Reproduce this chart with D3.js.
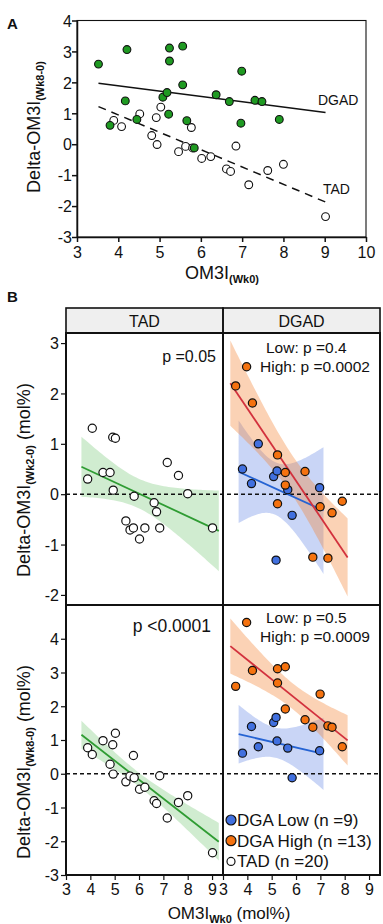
<!DOCTYPE html>
<html><head><meta charset="utf-8">
<script src="https://cdn.jsdelivr.net/npm/d3@7"></script>
<style>
html,body{margin:0;padding:0;background:#fff;}
svg{display:block;}
text{font-family:"Liberation Sans",Arial,sans-serif;fill:#111;}
</style></head>
<body><svg id="c" width="383" height="924"></svg>
<script>
// ---------- DATA ----------
const tadX     = [3.89,4.08,4.52,4.81,4.92,4.94,5.03,5.46,5.63,5.77,5.80,6.02,6.24,6.62,6.72,6.85,7.16,7.62,8.00,9.02];
const tadWk2   = [0.30,1.31,0.43,0.43,1.13,0.08,1.11,-0.53,-0.71,-0.67,-0.04,-0.89,-0.67,-0.17,-0.35,-0.67,0.63,0.37,0.01,-0.67];
const tadWk8   = [0.77,0.57,0.98,0.28,0.86,-0.01,1.20,-0.24,-0.07,0.54,-0.12,-0.46,-0.40,-0.80,-0.88,-0.06,-1.31,-0.85,-0.65,-2.34];
const lowX     = [3.80,4.17,4.45,5.08,5.18,5.22,5.66,5.84,6.97];
const lowWk2   = [0.50,0.21,1.00,0.35,-1.31,0.46,0.09,-0.42,0.13];
const lowWk8   = [0.61,1.40,0.80,1.52,1.67,0.97,0.76,-0.12,0.68];
const highX    = [3.52,3.97,4.21,5.24,5.24,5.56,5.56,6.37,6.69,6.99,7.31,7.48,7.90];
const highWk2  = [2.15,2.53,1.81,0.78,-0.19,0.43,0.18,0.45,-1.25,-0.25,-1.27,-0.37,-0.14];
const highWk8  = [2.59,4.48,3.06,3.11,2.69,3.17,1.92,1.60,1.38,2.36,1.42,1.38,0.80];
const aXTicks  = [3,4,5,6,7,8,9,10];
const aYTicks  = [-3,-2,-1,0,1,2,3,4];
const bXTicks  = [3,4,5,6,7,8,9];
const bTopYTicks = [-2,-1,0,1,2,3];
const bBotYTicks = [-3,-2,-1,0,1,2,3,4];
const facets   = ["TAD","DGAD"];
const pTop     = ["p =0.05","Low: p =0.4","High: p =0.0002"];
const pBot     = ["p <0.0001","Low: p =0.5","High: p =0.0009"];
const legendLabels = ["DGA Low (n =9)","DGA High (n =13)","TAD (n =20)"];
const tCrit = {18:2.101, 11:2.201, 7:2.365, 19:2.093, 20:2.086};

// ---------- helpers ----------
const fmt = d => String(d);
function fit(xs, ys){
  const n=xs.length, mx=d3.mean(xs), my=d3.mean(ys);
  let sxx=0,sxy=0; xs.forEach((x,i)=>{sxx+=(x-mx)**2; sxy+=(x-mx)*(ys[i]-my);});
  const b=sxy/sxx, a=my-b*mx;
  let sse=0; xs.forEach((x,i)=>{sse+=(ys[i]-(a+b*x))**2;});
  const s=Math.sqrt(sse/(n-2)), t=tCrit[n-2]||2.0;
  return {a,b,n,mx,sxx,s,t,
    y:x=>a+b*x,
    ci:x=>t*s*Math.sqrt(1/n+(x-mx)**2/sxx)};
}
const svg=d3.select("#c");
const COLORS={green:"#1f9a22", orange:"#f5720f", blue:"#4170df",
  gLine:"#2f9c33", oLine:"#d2313d", bLine:"#2563d3"};

// ================= PANEL A =================
const ax=d3.scaleLinear().domain([3,10]).range([77,366]);
const ay=d3.scaleLinear().domain([-3,4]).range([237,20.5]);
const gA=svg.append("g");
svg.append("text").attr("x",7).attr("y",29).style("font-weight","bold").style("font-size","15px").text("A");
svg.append("defs").append("clipPath").attr("id","clipA").append("rect")
  .attr("x",77).attr("y",20.5).attr("width",289).attr("height",216.5);
gA.append("rect").attr("x",77).attr("y",20.5).attr("width",289).attr("height",216.5)
  .attr("fill","none").attr("stroke","#111").attr("stroke-width",1.1);
const axB=gA.append("g").attr("transform","translate(0,237)").call(d3.axisBottom(ax).tickValues(aXTicks).tickFormat(fmt).tickSize(5).tickSizeOuter(0));
const axL=gA.append("g").attr("transform","translate(77,0)").call(d3.axisLeft(ay).tickValues(aYTicks).tickFormat(fmt).tickSize(5).tickSizeOuter(0));
[axB,axL].forEach(g=>{g.selectAll("path,line").attr("stroke","#111").attr("stroke-width",1.5);
  g.selectAll("text").style("font-size","16px").attr("fill","#222");});
axL.selectAll("text").attr("x",-5).attr("dy","0.36em");
axB.selectAll("text").attr("dy","0.8em");

// panel A shows only points inside its axis range
const inA=(x,y)=>y>=-3&&y<=4&&x>=3&&x<=10;
const dgaPts=lowX.map((x,i)=>[x,lowWk8[i]]).concat(highX.map((x,i)=>[x,highWk8[i]])).filter(d=>inA(d[0],d[1]));
const tadPts=tadX.map((x,i)=>[x,tadWk8[i]]).filter(d=>inA(d[0],d[1]));
const xr=d3.extent(dgaPts.concat(tadPts),d=>d[0]);
const fD=fit(dgaPts.map(d=>d[0]),dgaPts.map(d=>d[1])), fT=fit(tadPts.map(d=>d[0]),tadPts.map(d=>d[1]));
const pl=gA.append("g").attr("clip-path","url(#clipA)");
pl.append("line").attr("x1",ax(xr[0])).attr("x2",ax(xr[1])).attr("y1",ay(fD.y(xr[0]))).attr("y2",ay(fD.y(xr[1])))
  .attr("stroke","#111").attr("stroke-width",1.5);
pl.append("line").attr("x1",ax(xr[0])).attr("x2",ax(xr[1])).attr("y1",ay(fT.y(xr[0]))).attr("y2",ay(fT.y(xr[1])))
  .attr("stroke","#111").attr("stroke-width",1.5).attr("stroke-dasharray","8,6");
pl.selectAll("circle.t").data(tadPts).join("circle")
  .attr("cx",d=>ax(d[0])).attr("cy",d=>ay(d[1])).attr("r",3.9).attr("fill","#fff").attr("stroke","#111").attr("stroke-width",1.1);
pl.selectAll("circle.d").data(dgaPts).join("circle")
  .attr("cx",d=>ax(d[0])).attr("cy",d=>ay(d[1])).attr("r",3.9).attr("fill",COLORS.green).attr("stroke","#111").attr("stroke-width",1.1);
gA.append("text").attr("x",318).attr("y",105).style("font-size","14px").text("DGAD");
gA.append("text").attr("x",323).attr("y",194).style("font-size","14px").text("TAD");
// titles
const tA=gA.append("text").attr("text-anchor","middle").attr("transform","translate(40,127) rotate(-90)").style("font-size","18px");
tA.append("tspan").text("Delta-OM3I");
tA.append("tspan").attr("dy",4).style("font-size","11px").style("font-weight","bold").text("(Wk8-0)");
const tAx=gA.append("text").attr("text-anchor","middle").attr("x",222).attr("y",279).style("font-size","18px");
tAx.append("tspan").text("OM3I");
tAx.append("tspan").attr("dy",4).style("font-size","11px").style("font-weight","bold").text("(Wk0)");

// ================= PANEL B =================
svg.append("text").attr("x",7).attr("y",302).style("font-weight","bold").style("font-size","15px").text("B");
const colX=[[66,223],[223,380]];
const bx=colX.map(r=>d3.scaleLinear().domain([3,9.45]).range(r));
const rows=[{y0:333,y1:605,dom:[-2.2,3.2],ticks:bTopYTicks},{y0:605,y1:875,dom:[-3,5],ticks:bBotYTicks}];
rows.forEach(r=>r.sc=d3.scaleLinear().domain(r.dom).range([r.y1,r.y0]));
const gB=svg.append("g");
// strips
facets.forEach((f,i)=>{
  gB.append("rect").attr("x",colX[i][0]).attr("y",308).attr("width",colX[i][1]-colX[i][0]).attr("height",25)
    .attr("fill","#efefef");
  gB.append("text").attr("x",(colX[i][0]+colX[i][1])/2).attr("y",326.5).attr("text-anchor","middle")
    .style("font-size","16px").text(f);
});
const defs=svg.select("defs");
const sets=[
  {row:0,col:0,x:tadX,y:tadWk2,fill:"#fff",lc:COLORS.gLine,bc:"rgba(60,175,60,0.24)"},
  {row:1,col:0,x:tadX,y:tadWk8,fill:"#fff",lc:COLORS.gLine,bc:"rgba(60,175,60,0.24)"},
  {row:0,col:1,x:lowX,y:lowWk2,fill:COLORS.blue,lc:COLORS.bLine,bc:"rgba(75,115,225,0.30)"},
  {row:0,col:1,x:highX,y:highWk2,fill:COLORS.orange,lc:COLORS.oLine,bc:"rgba(245,130,50,0.36)"},
  {row:1,col:1,x:lowX,y:lowWk8,fill:COLORS.blue,lc:COLORS.bLine,bc:"rgba(75,115,225,0.30)"},
  {row:1,col:1,x:highX,y:highWk8,fill:COLORS.orange,lc:COLORS.oLine,bc:"rgba(245,130,50,0.36)"}
];
rows.forEach((r,ri)=>colX.forEach((c,ci)=>{
  defs.append("clipPath").attr("id",`cb${ri}${ci}`).append("rect").attr("x",c[0]).attr("y",r.y0).attr("width",c[1]-c[0]).attr("height",r.y1-r.y0);
}));
const layerBand=gB.append("g"), layerZero=gB.append("g"), layerLine=gB.append("g"), layerPt=gB.append("g");
sets.forEach(s=>{
  const f=fit(s.x,s.y), ext=d3.extent(s.x), pad=(ext[1]-ext[0])*0.05;
  const xs=d3.range(0,61).map(i=>ext[0]-pad+(ext[1]-ext[0]+2*pad)*i/60);
  const X=bx[s.col], Y=rows[s.row].sc, clip=`url(#cb${s.row}${s.col})`;
  layerBand.append("path").attr("clip-path",clip)
    .attr("d",d3.area().x(d=>X(d)).y0(d=>Y(f.y(d)-f.ci(d))).y1(d=>Y(f.y(d)+f.ci(d)))(xs))
    .attr("fill",s.bc);
  layerLine.append("line").attr("clip-path",clip)
    .attr("x1",X(xs[0])).attr("x2",X(xs[60])).attr("y1",Y(f.y(xs[0]))).attr("y2",Y(f.y(xs[60])))
    .attr("stroke",s.lc).attr("stroke-width",1.8);
  layerPt.append("g").attr("clip-path",clip).selectAll("circle").data(s.x.map((x,i)=>[x,s.y[i]])).join("circle")
    .attr("cx",d=>X(d[0])).attr("cy",d=>Y(d[1])).attr("r",4.1).attr("fill",s.fill).attr("stroke","#111").attr("stroke-width",1.2);
});
rows.forEach(r=>{
  layerZero.append("line").attr("x1",66).attr("x2",380).attr("y1",r.sc(0)).attr("y2",r.sc(0))
    .attr("stroke","#111").attr("stroke-width",1.5).attr("stroke-dasharray","4,3");
});
// y axes
rows.forEach(r=>{
  const g=gB.append("g").attr("transform","translate(66,0)").call(d3.axisLeft(r.sc).tickValues(r.ticks).tickFormat(fmt).tickSize(5).tickSizeOuter(0));
  g.select("path").remove();
  g.selectAll("line").attr("stroke","#111").attr("stroke-width",1.2);
  g.selectAll("text").style("font-size","16px").attr("fill","#222").attr("x",-7).attr("dy","0.36em");
});
// x axes
colX.forEach((c,ci)=>{
  const g=gB.append("g").attr("transform","translate(0,875)").call(d3.axisBottom(bx[ci]).tickValues(bXTicks).tickFormat(fmt).tickSize(5).tickSizeOuter(0));
  g.select("path").remove();
  g.selectAll("line").attr("stroke","#111").attr("stroke-width",1.2);
  g.selectAll("text").style("font-size","16px").attr("fill","#222").attr("dy","0.75em");
});
// panel frames
const fr=gB.append("g").attr("fill","none").attr("stroke","#111").attr("stroke-width",2);
colX.forEach(c=>{
  fr.append("rect").attr("x",c[0]).attr("y",308).attr("width",c[1]-c[0]).attr("height",25).attr("stroke-width",1.6);
  rows.forEach(r=>fr.append("rect").attr("x",c[0]).attr("y",r.y0).attr("width",c[1]-c[0]).attr("height",r.y1-r.y0));
});
// annotations
gB.append("text").attr("x",216).attr("y",362).attr("text-anchor","end").style("font-size","16px").text(pTop[0]);
gB.append("text").attr("x",266).attr("y",353).style("font-size","15.5px").text(pTop[1]);
gB.append("text").attr("x",260).attr("y",372).style("font-size","15.5px").text(pTop[2]);
gB.append("text").attr("x",211).attr("y",632).attr("text-anchor","end").style("font-size","17.5px").text(pBot[0]);
gB.append("text").attr("x",266).attr("y",623).style("font-size","15.5px").text(pBot[1]);
gB.append("text").attr("x",260).attr("y",642).style("font-size","15.5px").text(pBot[2]);
// legend
const legFill=[COLORS.blue,COLORS.orange,"#fff"], legR=[5,5,4];
legendLabels.forEach((l,i)=>{
  const y=820+i*20.7;
  gB.append("circle").attr("cx",231).attr("cy",y).attr("r",legR[i]).attr("fill",legFill[i]).attr("stroke","#111").attr("stroke-width",1.2);
  gB.append("text").attr("x",237).attr("y",y+6).style("font-size","17px").text(l);
});
// titles
[{y:480,sub:"(Wk2-0)"},{y:762,sub:"(Wk8-0)"}].forEach(t=>{
  const tx=gB.append("text").attr("text-anchor","middle").attr("transform",`translate(30,${t.y}) rotate(-90)`).style("font-size","18px");
  tx.append("tspan").text("Delta-OM3I");
  tx.append("tspan").attr("dy",4).style("font-size","11px").style("font-weight","bold").text(t.sub);
  tx.append("tspan").attr("dy",-4).text(" (mol%)");
});
const bxt=gB.append("text").attr("text-anchor","middle").attr("x",229).attr("y",919).style("font-size","17px");
bxt.append("tspan").text("OM3I");
bxt.append("tspan").attr("dy",4).style("font-size","11px").style("font-weight","bold").text("Wk0");
bxt.append("tspan").attr("dy",-4).text(" (mol%)");
</script></body></html>
